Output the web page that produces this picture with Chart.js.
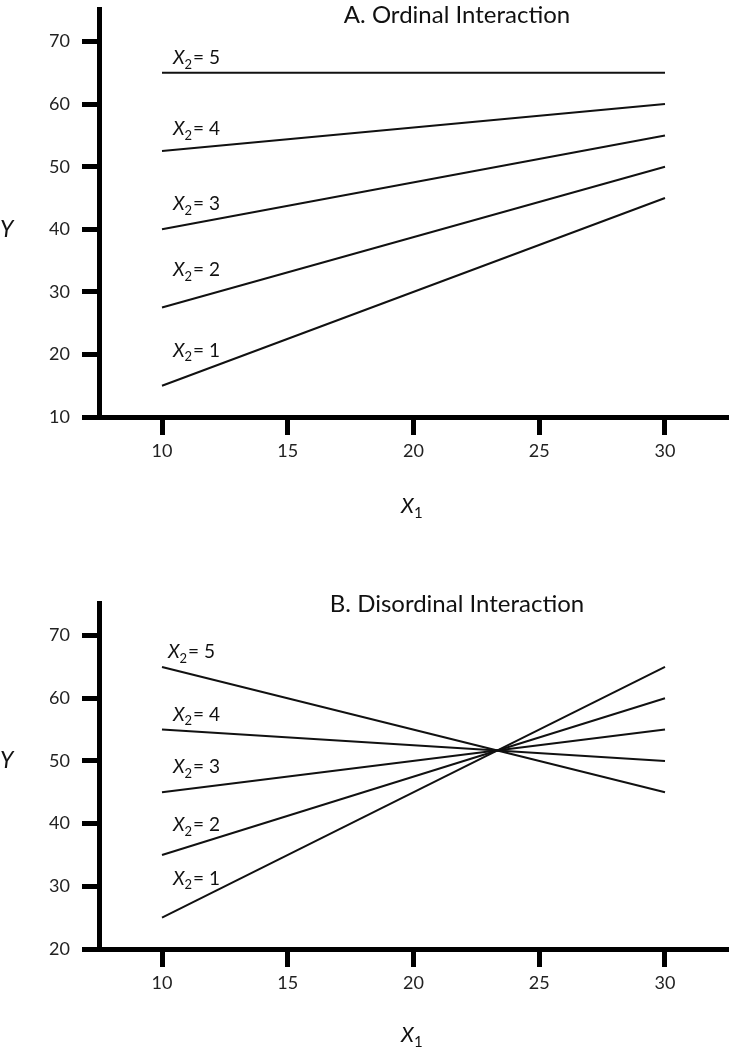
<!DOCTYPE html>
<html>
<head>
<meta charset="utf-8">
<script src="https://cdn.jsdelivr.net/npm/chart.js@4.4.1/dist/chart.umd.min.js"></script>
<style>
  html, body { margin: 0; padding: 0; background: #fff; }
  canvas { position: absolute; left: 0; }
  #chart-a { top: 0; }
  #chart-b { top: 530px; }
</style>
</head>
<body>
<canvas id="chart-a" width="729" height="530"></canvas>
<canvas id="chart-b" width="729" height="520"></canvas>
<script>
// Values
const x1Values = [10, 30];
const x2Levels = [1, 2, 3, 4, 5];
const ordinalY = [[15, 45], [27.5, 50], [40, 55], [52.5, 60], [65, 65]];
const disordinalY = [[25, 65], [35, 60], [45, 55], [55, 50], [65, 45]];
const xTicks = [10, 15, 20, 25, 30];
const ordinalYTicks = [10, 20, 30, 40, 50, 60, 70];
const disordinalYTicks = [20, 30, 40, 50, 60, 70];

const FONT = 'Lato';

// Draws "X" italic + lowered subscript + optional tail text
const drawSubscripted = (ctx, base, sub, tail, x, y, size) => {
    ctx.textAlign = 'left';
    ctx.textBaseline = 'alphabetic';
    ctx.font = `italic ${size}px ${FONT}`;
    ctx.fillText(base, x, y);
    x += ctx.measureText(base).width;
    ctx.font = `${Math.round(size * 0.7)}px ${FONT}`;
    ctx.fillText(sub, x, y + size * 0.25);
    x += ctx.measureText(sub).width;
    if (tail) {
        ctx.font = `${size}px ${FONT}`;
        ctx.fillText(tail, x + 1, y);
    }
};

// Title, series labels and axis names
const annotate = {
    id: 'annotate',
    afterDraw(chart, args, opts) {
        const ctx = chart.ctx;
        const area = chart.chartArea;
        const xs = chart.scales.x;
        const ys = chart.scales.y;
        ctx.save();
        ctx.fillStyle = '#111';

        ctx.font = `24px ${FONT}`;
        ctx.textAlign = 'center';
        ctx.textBaseline = 'alphabetic';
        ctx.fillText(opts.title, opts.titleX, area.top + opts.titleDy);

        chart.data.datasets.forEach((ds, i) => {
            const pt = chart.getDatasetMeta(i).data[0];
            const [dx, dy] = opts.labelOffsets[i];
            drawSubscripted(ctx, 'X', '2', '= ' + x2Levels[i], pt.x + dx, pt.y - dy, 19);
        });

        // upright Y to the left of the axis
        ctx.font = `italic 23px ${FONT}`;
        ctx.textAlign = 'left';
        ctx.textBaseline = 'middle';
        ctx.fillText('Y', 0, ys.getPixelForValue(opts.yLabelAt));

        // X1 under the axis, centred on 20
        ctx.font = `italic 21px ${FONT}`;
        const w = ctx.measureText('X').width + 10;
        drawSubscripted(ctx, 'X', '1', '', xs.getPixelForValue(20) - w / 2 - 1, area.bottom + opts.x1Dy, 21);
        ctx.restore();
    }
};

const makeChart = (id, seriesY, yMin, yTicks, padTop, xAxisHeight, extra) => {
    return new Chart(document.getElementById(id), {
        type: 'line',
        data: {
            datasets: seriesY.map((pair, i) => ({
                label: 'X2 = ' + x2Levels[i],
                data: x1Values.map((x, j) => ({ x: x, y: pair[j] })),
                borderColor: '#111',
                borderWidth: 2,
                pointRadius: 0,
                fill: false,
                tension: 0
            }))
        },
        options: {
            responsive: false,
            animation: false,
            layout: { padding: { top: padTop, right: 0, bottom: 0, left: 0 } },
            scales: {
                x: {
                    type: 'linear',
                    min: 7.495,
                    max: 32.545,
                    afterBuildTicks: s => { s.ticks = xTicks.map(v => ({ value: v })); },
                    afterFit: s => { s.height = xAxisHeight; s.paddingLeft = 0; s.paddingRight = 0; },
                    grid: { drawOnChartArea: false, tickLength: 18, tickWidth: 5, tickColor: '#000' },
                    border: { color: '#000', width: 5 },
                    ticks: { color: '#222', font: { family: FONT, size: 18 }, padding: 5, maxRotation: 0 }
                },
                y: {
                    min: yMin,
                    max: 75.2,
                    afterBuildTicks: s => { s.ticks = yTicks.map(v => ({ value: v })); },
                    // fixed axis width, and no extra room for the top label
                    afterFit: s => { s.width = 99; s.paddingTop = 0; s.paddingBottom = 0; },
                    grid: { drawOnChartArea: false, tickLength: 17, tickWidth: 5, tickColor: '#000' },
                    border: { color: '#000', width: 5 },
                    ticks: { color: '#222', font: { family: FONT, size: 18 }, padding: 12 }
                }
            },
            plugins: {
                legend: { display: false },
                tooltip: { enabled: false },
                annotate: extra
            }
        },
        plugins: [annotate]
    });
};

// A. Ordinal
makeChart('chart-a', ordinalY, 10, ordinalYTicks, 9, 113, {
    title: 'A. Ordinal Interaction',
    titleX: 457,
    titleDy: 14,
    yLabelAt: 40,
    x1Dy: 96,
    labelOffsets: [[11, 29], [11, 31], [11, 19], [11, 16], [11, 9]]
});

// B. Disordinal
makeChart('chart-b', disordinalY, 20, disordinalYTicks, 73, 101, {
    title: 'B. Disordinal Interaction',
    titleX: 457,
    titleDy: 9,
    yLabelAt: 50,
    x1Dy: 93,
    labelOffsets: [[11, 33], [11, 24], [11, 19], [11, 9], [6, 9]]
});
</script>
</body>
</html>
